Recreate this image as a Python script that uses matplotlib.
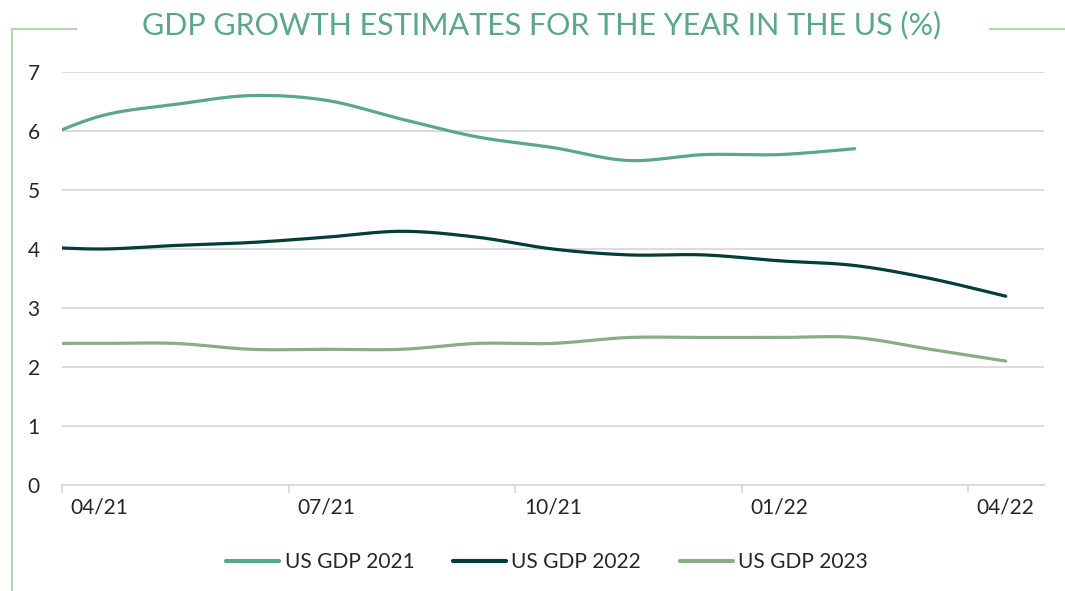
import numpy as np
import matplotlib
matplotlib.use("Agg")
import matplotlib.pyplot as plt
from matplotlib.lines import Line2D

# monthly consensus estimates, 03/21 .. 04/22 (03/21 sits just off the left edge)
months = ["03/21", "04/21", "05/21", "06/21", "07/21", "08/21", "09/21",
          "10/21", "11/21", "12/21", "01/22", "02/22", "03/22", "04/22"]
gdp_2021 = [5.75, 6.25, 6.45, 6.6, 6.52, 6.2, 5.9, 5.72, 5.5, 5.6, 5.6, 5.7, np.nan, np.nan]
gdp_2022 = [4.05, 4.0, 4.06, 4.11, 4.2, 4.3, 4.2, 4.0, 3.9, 3.9, 3.8, 3.72, 3.5, 3.2]
gdp_2023 = [2.4, 2.4, 2.4, 2.3, 2.3, 2.3, 2.4, 2.4, 2.5, 2.5, 2.5, 2.5, 2.3, 2.1]
tick_labels = ["04/21", "07/21", "10/21", "01/22", "04/22"]

series = [("US GDP 2021", gdp_2021, "#5ba78a"),
          ("US GDP 2022", gdp_2022, "#003e38"),
          ("US GDP 2023", gdp_2023, "#8aad88")]


def smooth(x, y, n=24):
    # excel-like smoothed line (catmull-rom through the points)
    x = np.asarray(x, float)
    y = np.asarray(y, float)
    ok = ~np.isnan(y)
    x, y = x[ok], y[ok]
    px = np.concatenate([[x[0]], x, [x[-1]]])
    py = np.concatenate([[y[0]], y, [y[-1]]])
    xs, ys = [], []
    t = np.linspace(0, 1, n)
    for i in range(1, len(px) - 2):
        for p, out in ((px, xs), (py, ys)):
            p0, p1, p2, p3 = p[i - 1], p[i], p[i + 1], p[i + 2]
            c1 = p1 + (p2 - p0) / 6
            c2 = p2 - (p3 - p1) / 6
            out.extend((1 - t) ** 3 * p1 + 3 * (1 - t) ** 2 * t * c1
                       + 3 * (1 - t) * t ** 2 * c2 + t ** 3 * p2)
    return np.array(xs), np.array(ys)


plt.rcParams["font.family"] = ["Lato", "DejaVu Sans"]

fig = plt.figure(figsize=(10.65, 5.91), dpi=100)
ax = fig.add_axes([62 / 1065, 1 - 485 / 591, (1043.5 - 62) / 1065, (485 - 72) / 591])

pos = np.arange(len(months)) - 1
for name, vals, col in series:
    sx, sy = smooth(pos, vals)
    ax.plot(sx, sy, color=col, lw=2.3, solid_capstyle="round", label=name)

ax.set_xlim(-0.5, 12.5)
ax.set_ylim(0, 7)
ax.set_yticks(range(0, 8))
ax.yaxis.grid(True, color="#d9d9d9", lw=1.3)
ax.set_axisbelow(True)
for s in ["top", "right", "left"]:
    ax.spines[s].set_visible(False)
ax.spines["bottom"].set_color("#d9d9d9")
ax.spines["bottom"].set_linewidth(1.3)

# tick marks on month-slot borders, labels centred on the slot
ax.set_xticks([-0.5, 2.5, 5.5, 8.5, 11.5])
ax.set_xticks([0, 3, 6, 9, 12], minor=True)
ax.set_xticklabels(tick_labels, minor=True)
ax.tick_params(axis="x", which="major", labelbottom=False, length=6, color="#d9d9d9", width=1.3)
ax.tick_params(axis="x", which="minor", length=0, pad=9, labelsize=15, labelcolor="#262626")
ax.tick_params(axis="y", length=0, pad=16, labelsize=15, labelcolor="#262626")

leg = fig.legend(loc="center", bbox_to_anchor=(547 / 1065, 1 - 562 / 591), ncol=3,
                 frameon=False, fontsize=15, handlelength=2.55, handletextpad=0.25,
                 columnspacing=1.85)
for t in leg.get_texts():
    t.set_color("#262626")
for h in leg.legend_handles:
    h.set_linewidth(3)

fig.text(542 / 1065, 1 - 25 / 591, "GDP GROWTH ESTIMATES FOR THE YEAR IN THE US (%)",
         ha="center", va="center", fontsize=22, color="#5ba78a")

deco = "#b7d4b5"
fig.add_artist(Line2D([12 / 1065, 12 / 1065], [1 - 29 / 591, 0], color=deco, lw=1.6))
fig.add_artist(Line2D([12 / 1065, 76 / 1065], [1 - 29 / 591, 1 - 29 / 591], color=deco, lw=1.6))
fig.add_artist(Line2D([990 / 1065, 1], [1 - 29 / 591, 1 - 29 / 591], color=deco, lw=1.6))

fig.savefig("out.png", dpi=100)
